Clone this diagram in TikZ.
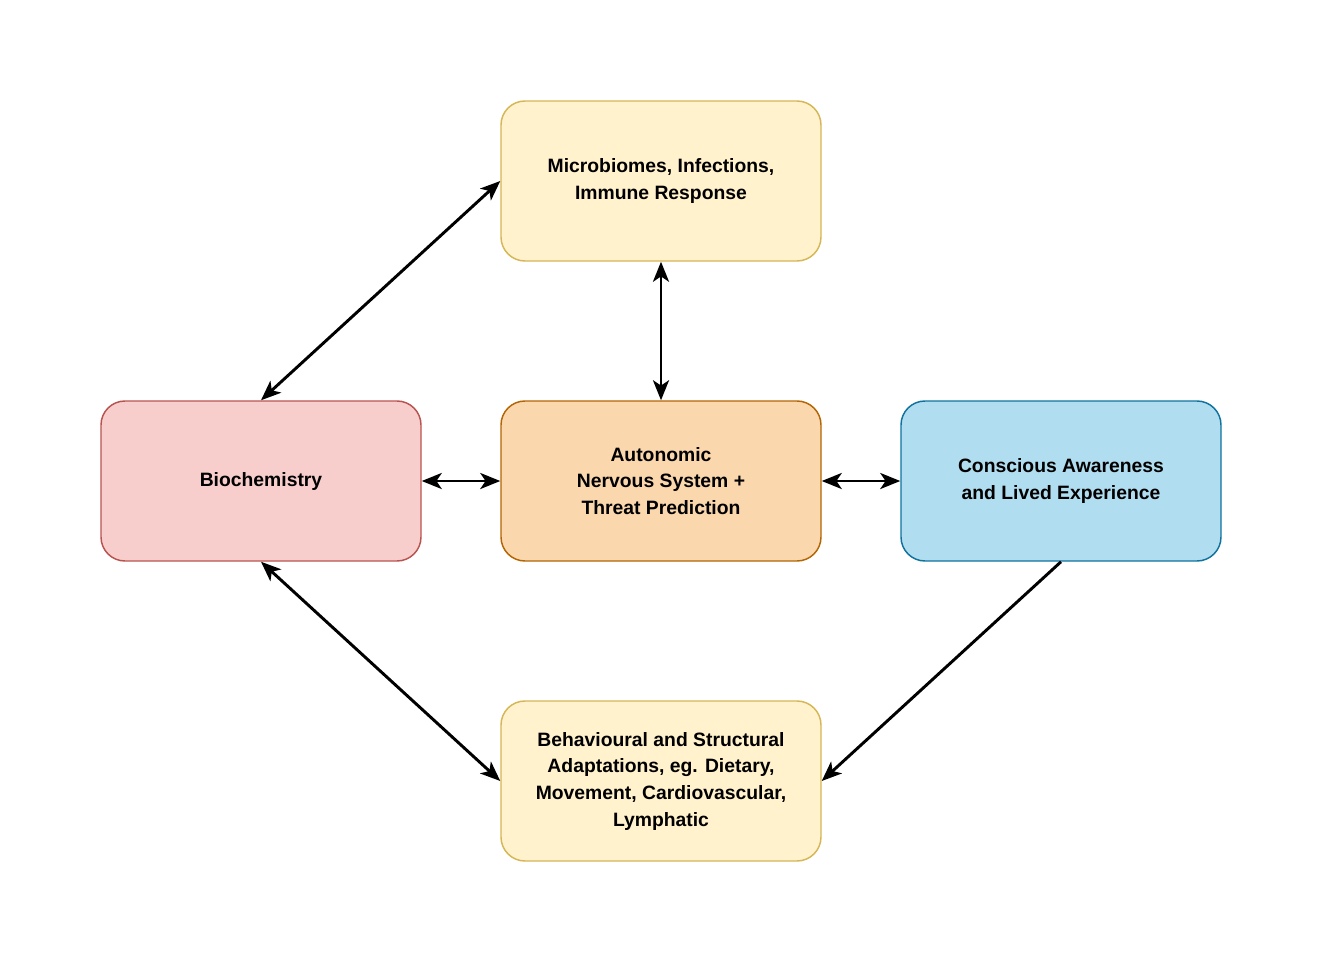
\documentclass[tikz,border=0pt]{standalone}
\usepackage{fontspec}
\setmainfont{Liberation Sans}
\usetikzlibrary{arrows.meta}
\definecolor{yfill}{HTML}{FFF2CC}\definecolor{ydraw}{HTML}{D6B656}
\definecolor{rfill}{HTML}{F8CECC}\definecolor{rdraw}{HTML}{B85450}
\definecolor{ofill}{HTML}{FAD7AC}\definecolor{odraw}{HTML}{B46504}
\definecolor{bfill}{HTML}{B1DDF0}\definecolor{bdraw}{HTML}{10739E}
\begin{document}
\begin{tikzpicture}[x=0.75pt,y=-0.75pt,
  box/.style={rounded corners=18pt,line width=1.1pt,minimum width=240pt,minimum height=120pt,
    align=center,font=\bfseries\fontsize{14.5pt}{20pt}\selectfont,inner sep=0pt},
  conn/.style={line width=2.2pt,-{Stealth[length=15pt,width=12pt,inset=4pt]}},
  bconn/.style={line width=2.2pt,{Stealth[length=15pt,width=12pt,inset=4pt]}-{Stealth[length=15pt,width=12pt,inset=4pt]}}]
\useasboundingbox (0,0) rectangle (1322,964);
\node[box,fill=yfill,draw=ydraw] (mic) at (661,181) {Microbiomes, Infections,\\Immune Response};
\node[box,fill=rfill,draw=rdraw] (bio) at (261,481) {Biochemistry};
\node[box,fill=ofill,draw=odraw] (ans) at (661,481) {Autonomic\\Nervous System +\\Threat Prediction};
\node[box,fill=bfill,draw=bdraw] (con) at (1061,481) {Conscious Awareness\\and Lived Experience};
\node[box,fill=yfill,draw=ydraw] (beh) at (661,781) {Behavioural and Structural\\Adaptations, eg. Dietary,\\Movement, Cardiovascular,\\Lymphatic};
\draw[bconn] (bio.north) -- (mic.west);
\draw[bconn] (mic.south) -- (ans.north);
\draw[bconn] (bio.east) -- (ans.west);
\draw[bconn] (ans.east) -- (con.west);
\draw[bconn] (bio.south) -- (beh.west);
\draw[conn] (con.south) -- (beh.east);
\end{tikzpicture}
\end{document}
